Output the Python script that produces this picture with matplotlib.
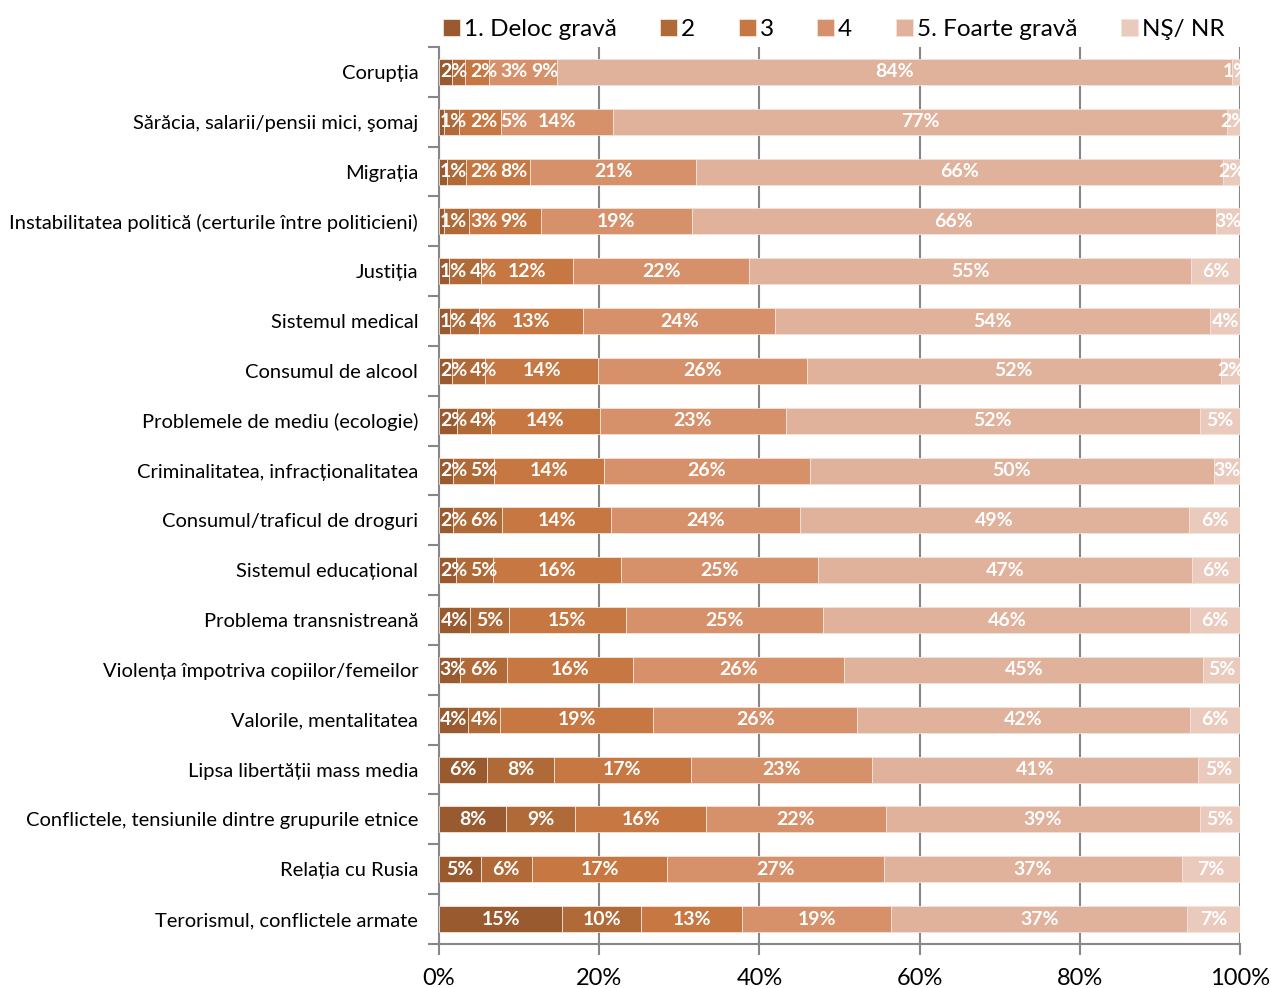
import numpy as np
import matplotlib
matplotlib.use('Agg')
import matplotlib.pyplot as plt
from matplotlib.ticker import FixedLocator, FuncFormatter

plt.rcParams['font.family'] = ['Lato', 'DejaVu Sans']

categories = [
    'Corupția',
    'Sărăcia, salarii/pensii mici, şomaj',
    'Migrația',
    'Instabilitatea politică (certurile între politicieni)',
    'Justiția',
    'Sistemul medical',
    'Consumul de alcool',
    'Problemele de mediu (ecologie)',
    'Criminalitatea, infracționalitatea',
    'Consumul/traficul de droguri',
    'Sistemul educațional',
    'Problema transnistreană',
    'Violența împotriva copiilor/femeilor',
    'Valorile, mentalitatea',
    'Lipsa libertății mass media',
    'Conflictele, tensiunile dintre grupurile etnice',
    'Relația cu Rusia',
    'Terorismul, conflictele armate',
]

series_names = ['1. Deloc gravă', '2', '3', '4', '5. Foarte gravă', 'NŞ/ NR']

# percentages per category, one list per answer
deloc_grava = [1.6, 0.6, 1.0, 0.6, 1.2, 1.4, 1.6, 2.2, 1.7, 1.7, 2.1, 3.9, 2.6, 3.6, 6.0, 8.4, 5.2, 15.4]
nota_2 = [1.6, 1.9, 2.4, 3.2, 4.0, 3.6, 4.2, 4.3, 5.2, 6.2, 4.6, 4.8, 5.9, 4.1, 8.4, 8.6, 6.4, 9.9]
nota_3 = [3.0, 5.3, 8.0, 8.9, 11.6, 13.0, 14.1, 13.6, 13.7, 13.6, 16.1, 14.6, 15.7, 19.1, 17.0, 16.4, 17.0, 12.6]
nota_4 = [8.6, 13.9, 20.7, 18.9, 22.0, 23.9, 26.0, 23.2, 25.7, 23.6, 24.6, 24.7, 26.4, 25.6, 22.6, 22.4, 27.1, 18.6]
foarte_grava = [84.4, 76.8, 65.7, 65.6, 55.2, 54.2, 51.7, 51.7, 50.4, 48.6, 46.8, 45.8, 44.8, 41.6, 40.8, 39.3, 37.3, 37.0]
ns_nr = [1.0, 1.6, 2.1, 3.0, 6.1, 3.7, 2.4, 5.0, 3.3, 6.4, 6.0, 6.2, 4.6, 6.3, 5.2, 5.0, 7.3, 6.6]

colors = ['#9A5A2F', '#B06A38', '#C77741', '#D6916B', '#E0B19B', '#E9CABD']

data = np.array([deloc_grava, nota_2, nota_3, nota_4, foarte_grava, ns_nr])
widths = data / data.sum(axis=0) * 100
starts = np.cumsum(widths, axis=0) - widths

fig = plt.figure(figsize=(12.71, 9.88), dpi=100)
ax = fig.add_axes([439 / 1271, 1 - 944 / 988, 801 / 1271, 897 / 988])

y = np.arange(len(categories))
for i in range(len(series_names)):
    ax.barh(y, widths[i], left=starts[i], height=0.52, color=colors[i],
            edgecolor='#F3E3DA', linewidth=0.6, label=series_names[i], zorder=3)

# data labels: centred, small ones pushed right so they don't pile up
gap = 0.6
for k in range(len(categories)):
    prev_pos, prev_hw = None, 0
    for i in range(len(series_names)):
        txt = '%.0f%%' % data[i][k]
        hw = (1.6 if len(txt) == 2 else 2.3)
        pos = starts[i][k] + widths[i][k] / 2
        if prev_pos is None:
            pos = max(pos, hw + 0.2)
        else:
            pos = max(pos, prev_pos + prev_hw + hw + gap)
        ax.text(pos, y[k], txt, ha='center', va='center', color='white',
                fontsize=14, fontweight='bold', zorder=4, clip_on=True)
        prev_pos, prev_hw = pos, hw

ax.set_xlim(0, 100)
ax.set_ylim(len(categories) - 0.5, -0.5)

ax.set_yticks(y)
ax.set_yticklabels(categories, fontsize=14.5)
ax.yaxis.set_minor_locator(FixedLocator(np.arange(-0.5, len(categories), 1)))
ax.tick_params(axis='y', which='major', length=0, pad=15)
ax.tick_params(axis='y', which='minor', length=8, width=1.5, color='#878787')

ax.set_xticks([0, 20, 40, 60, 80, 100])
ax.xaxis.set_major_formatter(FuncFormatter(lambda v, p: '%d%%' % v))
ax.tick_params(axis='x', length=8, width=1.5, color='#878787', labelsize=17, pad=9.5)

ax.grid(axis='x', color='#878787', linewidth=1.5, zorder=0)
for s in ['top', 'right']:
    ax.spines[s].set_visible(False)
for s in ['left', 'bottom']:
    ax.spines[s].set_color('#878787')
    ax.spines[s].set_linewidth(1.5)

leg = ax.legend(loc='lower left', bbox_to_anchor=(-0.004, 1.0), ncol=6, frameon=False,
                fontsize=17.5, handlelength=0.7, handleheight=0.7, handletextpad=0.15,
                columnspacing=1.8, borderaxespad=0.1, borderpad=0.2)

fig.savefig('out.png', dpi=100)
